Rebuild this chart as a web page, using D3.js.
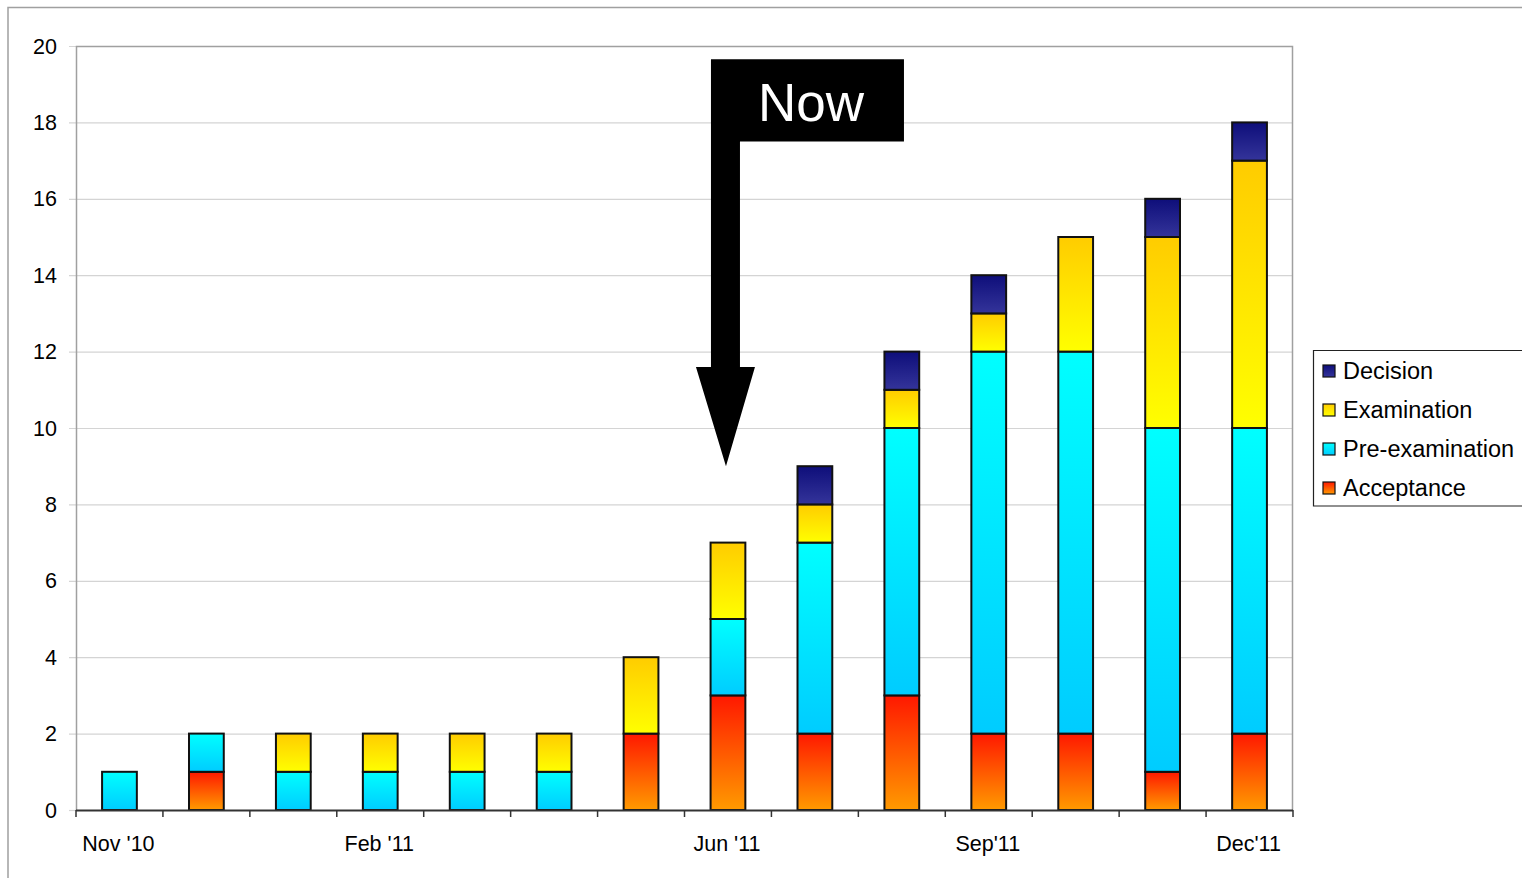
<!DOCTYPE html>
<html>
<head>
<meta charset="utf-8">
<script src="https://cdnjs.cloudflare.com/ajax/libs/d3/7.8.5/d3.min.js"></script>
<style>
  body { margin: 0; background: #fff; }
  svg { display: block; font-family: "Liberation Sans", Arial, sans-serif; }
</style>
</head>
<body>
<svg id="chart" width="1522" height="878"></svg>
<script>
const months = ['Nov 10', 'Dec 10', 'Jan 11', 'Feb 11', 'Mar 11', 'Apr 11', 'May 11',
  'Jun 11', 'Jul 11', 'Aug 11', 'Sep 11', 'Oct 11', 'Nov 11', 'Dec 11'];
const tickLabels = { 'Nov 10': "Nov '10", 'Feb 11': "Feb '11", 'Jun 11': "Jun '11", 'Sep 11': "Sep'11", 'Dec 11': "Dec'11" };

const acceptance    = [0, 1, 0, 0, 0, 0, 2, 3, 2, 3, 2, 2, 1, 2];
const preExam       = [1, 1, 1, 1, 1, 1, 0, 2, 5, 7, 10, 10, 9, 8];
const examination   = [0, 0, 1, 1, 1, 1, 2, 2, 1, 1, 1, 3, 5, 7];
const decision      = [0, 0, 0, 0, 0, 0, 0, 0, 1, 1, 1, 0, 1, 1];
const yTicks = [0, 2, 4, 6, 8, 10, 12, 14, 16, 18, 20];

const series = [
  { key: 'acceptance', name: 'Acceptance', values: acceptance, top: '#ff1800', bottom: '#ff9a00' },
  { key: 'preExam', name: 'Pre-examination', values: preExam, top: '#00ffff', bottom: '#00ccff' },
  { key: 'examination', name: 'Examination', values: examination, top: '#ffcc00', bottom: '#ffff00' },
  { key: 'decision', name: 'Decision', values: decision, top: '#0e0e7a', bottom: '#34349a' }
];

const svg = d3.select('#chart');
const margin = { top: 46, right: 229, bottom: 68, left: 76 };
const width = 1522, height = 878;
const innerWidth = width - margin.left - margin.right;
const innerHeight = height - margin.top - margin.bottom;

// outer frame
svg.append('path')
  .attr('d', `M8,${height} V7.5 H${width}`)
  .attr('fill', 'none').attr('stroke', '#a0a0a0').attr('stroke-width', 1.5);

const defs = svg.append('defs');
series.forEach(s => {
  const lg = defs.append('linearGradient').attr('id', 'g-' + s.key)
    .attr('x1', 0).attr('y1', 0).attr('x2', 0).attr('y2', 1);
  lg.append('stop').attr('offset', '0%').attr('stop-color', s.top);
  lg.append('stop').attr('offset', '100%').attr('stop-color', s.bottom);
});

const x = d3.scaleBand().domain(months).range([0, innerWidth]).paddingInner(0.6).paddingOuter(0.3);
const xEdge = d3.scaleLinear().domain([0, months.length]).range([0, innerWidth]);
const y = d3.scaleLinear().domain([0, 20]).range([innerHeight, 0]);

const g = svg.append('g').attr('transform', `translate(${margin.left},${margin.top})`);

// gridlines + left ticks
g.append('g').selectAll('line').data(yTicks.slice(1)).join('line')
  .attr('x1', -7).attr('x2', innerWidth)
  .attr('y1', d => y(d) + 0.5).attr('y2', d => y(d) + 0.5)
  .attr('stroke', '#d4d4d4').attr('stroke-width', 1.2);
g.append('line').attr('x1', -7).attr('x2', 0).attr('y1', y(0) + 0.5).attr('y2', y(0) + 0.5)
  .attr('stroke', '#d4d4d4').attr('stroke-width', 1.2);

g.append('g').selectAll('text').data(yTicks).join('text')
  .attr('x', -19).attr('y', d => y(d)).attr('dy', '0.35em')
  .attr('text-anchor', 'end').attr('font-size', 21.5).attr('fill', '#000')
  .text(d => d);

// plot border
g.append('path')
  .attr('d', `M0.5,${innerHeight} V0.5 H${innerWidth - 0.5} V${innerHeight}`)
  .attr('fill', 'none').attr('stroke', '#a0a0a0').attr('stroke-width', 1.5);

// stacked bars
const stackData = months.map((m, i) => {
  const o = { month: m };
  series.forEach(s => { o[s.key] = s.values[i]; });
  return o;
});
const stacked = d3.stack().keys(series.map(s => s.key))(stackData);

stacked.forEach((layer, li) => {
  g.append('g').selectAll('rect')
    .data(layer.filter(d => d[1] - d[0] > 0))
    .join('rect')
    .attr('x', d => x(d.data.month))
    .attr('width', x.bandwidth())
    .attr('y', d => y(d[1]))
    .attr('height', d => y(d[0]) - y(d[1]))
    .attr('fill', `url(#g-${series[li].key})`)
    .attr('stroke', '#111').attr('stroke-width', 2);
});

// x axis
g.append('line').attr('x1', 0).attr('x2', innerWidth)
  .attr('y1', innerHeight + 0.5).attr('y2', innerHeight + 0.5)
  .attr('stroke', '#333').attr('stroke-width', 2);
g.append('g').selectAll('line').data(d3.range(months.length + 1)).join('line')
  .attr('x1', d => xEdge(d)).attr('x2', d => xEdge(d))
  .attr('y1', innerHeight).attr('y2', innerHeight + 7)
  .attr('stroke', '#333').attr('stroke-width', 1.5);
g.append('g').selectAll('text').data(months.filter(m => tickLabels[m])).join('text')
  .attr('x', d => x(d) + x.bandwidth() / 2 - 1)
  .attr('y', innerHeight + 41)
  .attr('text-anchor', 'middle').attr('font-size', 21.5).attr('fill', '#000')
  .text(d => tickLabels[d]);

// "Now" annotation
const nowX = x('Jun 11') + x.bandwidth() / 2 - 2;
const shaftL = nowX - 15, shaftR = nowX + 14;
const boxTop = y(19.65), boxBottom = y(17.5);
const headY = y(11.6), tipY = y(9.0);
g.append('path')
  .attr('d', `M${shaftL},${boxTop} H${nowX + 178} V${boxBottom} H${shaftR} V${headY} H${nowX + 29} L${nowX},${tipY} L${nowX - 30},${headY} H${shaftL} Z`)
  .attr('fill', '#000');
g.append('text')
  .attr('x', nowX + 85).attr('y', y(18.03))
  .attr('text-anchor', 'middle').attr('font-size', 53).attr('fill', '#fff')
  .text('Now');

// legend
const legend = svg.append('g').attr('transform', 'translate(1313,350)');
legend.append('path').attr('d', 'M209,0.5 H0.5 V156 H209')
  .attr('fill', '#fff').attr('stroke', '#222').attr('stroke-width', 1.2);
const legendItems = series.slice().reverse();
legendItems.forEach((s, i) => {
  const row = legend.append('g').attr('transform', `translate(10,${21 + i * 39})`);
  row.append('rect').attr('x', 0).attr('y', -6).attr('width', 12).attr('height', 12)
    .attr('fill', `url(#g-${s.key})`).attr('stroke', '#111').attr('stroke-width', 1.2);
  row.append('text').attr('x', 20).attr('y', 0).attr('dy', '0.35em')
    .attr('font-size', 23.5).attr('fill', '#000').text(s.name);
});
</script>
</body>
</html>
